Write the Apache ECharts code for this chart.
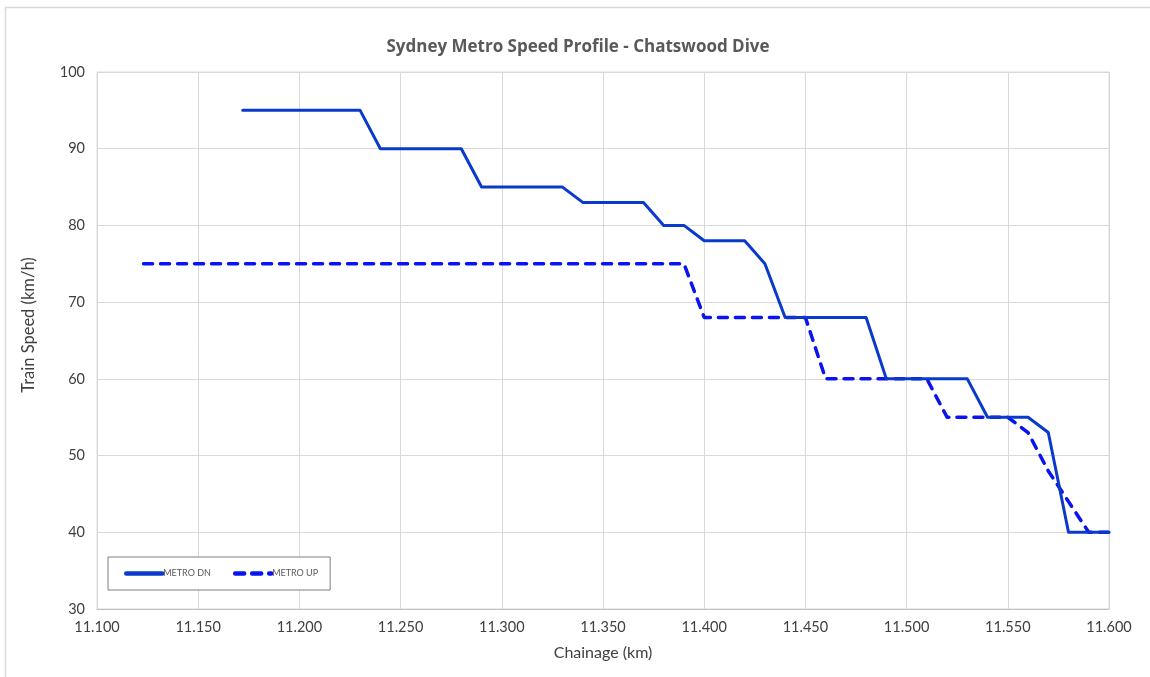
<!DOCTYPE html>
<html>
<head>
<meta charset="utf-8">
<script src="https://cdn.jsdelivr.net/npm/echarts@6/dist/echarts.min.js"></script>
<style>
html,body{margin:0;padding:0;background:#fff;}
#chart{width:1150px;height:677px;}
</style>
</head>
<body>
<div id="chart"></div>
<script>
// Data (chainage in km, speed in km/h)
var dnChainage = [11.172, 11.230, 11.240, 11.280, 11.290, 11.330, 11.340, 11.370, 11.380, 11.390, 11.400, 11.420, 11.430, 11.440, 11.480, 11.490, 11.530, 11.540, 11.560, 11.570, 11.580, 11.600];
var dnSpeed    = [95, 95, 90, 90, 85, 85, 83, 83, 80, 80, 78, 78, 75, 68, 68, 60, 60, 55, 55, 53, 40, 40];
var upChainage = [11.123, 11.390, 11.400, 11.450, 11.460, 11.510, 11.520, 11.550, 11.560, 11.570, 11.580, 11.590, 11.600];
var upSpeed    = [75, 75, 68, 68, 60, 60, 55, 55, 53, 48, 44, 40, 40];
var seriesNames = ['METRO DN', 'METRO UP'];
var titleText = 'Sydney Metro Speed Profile - Chatswood Dive';
var xAxisName = 'Chainage (km)';
var yAxisName = 'Train Speed (km/h)';

function pairs(xs, ys){ return xs.map(function(x,i){ return [x, ys[i]]; }); }

var FONT = 'Lato';
var chart = echarts.init(document.getElementById('chart'));
chart.setOption({
  animation: false,
  backgroundColor: '#fff',
  textStyle: {fontFamily: FONT},
  title: {
    text: titleText,
    left: 573, top: 34, textAlign: 'center',
    textStyle: {fontFamily: 'Open Sans', fontSize: 17, fontWeight: 'bold', color: '#595959'}
  },
  graphic: [{
    type: 'rect', silent: true, z: -1,
    shape: {x: 5.5, y: 7.5, width: 1160, height: 700},
    style: {fill: 'none', stroke: '#d9d9d9', lineWidth: 1.5}
  },{
    type: 'text', silent: true,
    x: 29, y: 325, rotation: Math.PI / 2,
    style: {text: yAxisName, fontFamily: FONT, fontSize: 16.5, fill: '#404040', align: 'center', verticalAlign: 'middle'}
  }],
  grid: {left: 97, right: 41, top: 72, bottom: 68, show: true, borderColor: '#d9d9d9', borderWidth: 1},
  legend: {
    left: 108, top: 557, width: 210, height: 26,
    orient: 'horizontal',
    padding: [12, 12, 12, 16],
    itemGap: 22,
    itemWidth: 36, itemHeight: 8,
    borderColor: '#7f7f7f', borderWidth: 1,
    backgroundColor: '#fff',
    itemStyle: {opacity: 0},
    lineStyle: {width: 4.5},
    textStyle: {fontFamily: FONT, fontSize: 9, color: '#595959', padding: [0,0,0,-4]},
    data: seriesNames
  },
  xAxis: {
    type: 'value', min: 11.1, max: 11.6, interval: 0.05,
    name: xAxisName, nameLocation: 'middle', nameGap: 36,
    nameTextStyle: {fontFamily: FONT, fontSize: 16, color: '#404040'},
    axisLine: {show: true, lineStyle: {color: '#bfbfbf'}},
    axisTick: {show: false},
    axisLabel: {fontFamily: FONT, fontSize: 14.5, color: '#404040', margin: 11,
      formatter: function(v){ return v.toFixed(3); }},
    splitLine: {show: true, lineStyle: {color: '#d9d9d9', width: 1}}
  },
  yAxis: {
    type: 'value', min: 30, max: 100, interval: 10,
    axisLine: {show: true, lineStyle: {color: '#d9d9d9'}},
    axisTick: {show: false},
    axisLabel: {fontFamily: FONT, fontSize: 14.5, color: '#404040', margin: 12},
    splitLine: {show: true, lineStyle: {color: '#d9d9d9', width: 1}}
  },
  series: [{
    name: seriesNames[0], type: 'line', symbol: 'none',
    data: pairs(dnChainage, dnSpeed),
    itemStyle: {color: '#0a3acc'},
    lineStyle: {color: '#0a3acc', width: 3, cap: 'round', join: 'round'},
    z: 3
  },{
    name: seriesNames[1], type: 'line', symbol: 'none',
    data: pairs(upChainage, upSpeed),
    itemStyle: {color: '#0a14f0'},
    lineStyle: {color: '#0a14f0', width: 3.5, type: [9, 8], cap: 'round', join: 'round'},
    z: 2
  }]
});
</script>
</body>
</html>
